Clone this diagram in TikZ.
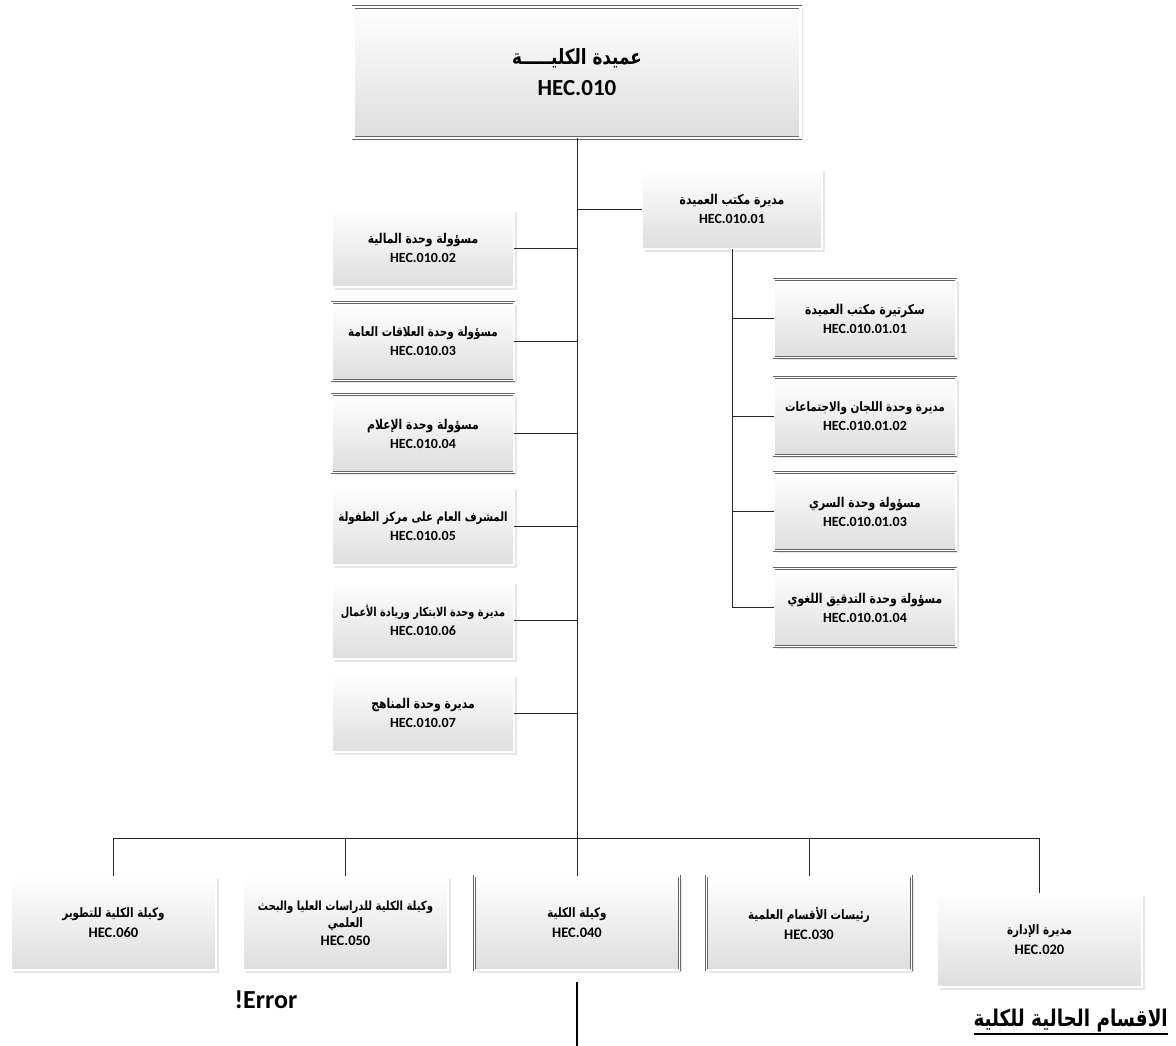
\documentclass[tikz,border=0pt]{standalone}
\usepackage{fontspec}
\setmainfont{Carlito}
\newfontfamily\arabicfont[Script=Arabic, FakeStretch=0.8]{DejaVu Sans}
\TeXXeTstate=1
\usetikzlibrary{shadows}
\newcommand\artxt[1]{{\arabicfont\bfseries\beginR #1\endR}}
\newcommand\thickul[1]{\vtop{\hbox{#1}\kern1.5pt\hrule height 2.2pt}}
\tikzset{
  orgbox/.style={draw=black!60, double=white, double distance=1.6pt, line width=0.6pt,
    top color=white, bottom color=black!13,
    drop shadow={opacity=0.2, shadow xshift=2.5pt, shadow yshift=-2.5pt},
    align=center, inner sep=2pt, minimum width=182pt, minimum height=78pt,
    font=\bfseries\fontsize{14}{16}\selectfont},
  topbox/.style={orgbox, double distance=2.4pt, minimum width=447pt, minimum height=131pt,
    font=\bfseries\fontsize{23}{26}\selectfont},
  lowbox/.style={orgbox, minimum width=205pt, minimum height=94pt,
    font=\bfseries\fontsize{14.5}{16}\selectfont},
  link/.style={draw=black!85, line width=1pt},
}
\begin{document}
\begin{tikzpicture}[x=1pt,y=-1pt]
\useasboundingbox (0,0) rectangle (1176,1046);
% top
\node[topbox] (top) at (577,72.5) {{\fontsize{21}{24}\selectfont\artxt{عميدة الكليـــــة}}\\[5pt] HEC.010};
% right column
\node[orgbox, minimum width=180pt, minimum height=80pt] (r0) at (732,209) {{\fontsize{13.5}{15}\selectfont\artxt{مديرة مكتب العميدة}}\\[3pt] HEC.010.01};
\node[orgbox] (r1) at (865,318.5) {{\fontsize{13.5}{15}\selectfont\artxt{سكرتيرة مكتب العميدة}}\\[3pt] HEC.010.01.01};
\node[orgbox] (r2) at (865,416.5) {{\fontsize{13}{15}\selectfont\artxt{مديرة وحدة اللجان والاجتماعات}}\\[3pt] HEC.010.01.02};
\node[orgbox] (r3) at (865,511.5) {{\fontsize{13.5}{15}\selectfont\artxt{مسؤولة وحدة السري}}\\[3pt] HEC.010.01.03};
\node[orgbox] (r4) at (865,607.5) {{\fontsize{13.5}{15}\selectfont\artxt{مسؤولة وحدة التدقيق اللغوي}}\\[3pt] HEC.010.01.04};
% left column
\node[orgbox] (l2) at (423,248) {{\fontsize{13.5}{15}\selectfont\artxt{مسؤولة وحدة المالية}}\\[3pt] HEC.010.02};
\node[orgbox] (l3) at (423,341.5) {{\fontsize{13}{15}\selectfont\artxt{مسؤولة وحدة العلاقات العامة}}\\[3pt] HEC.010.03};
\node[orgbox] (l4) at (423,433.5) {{\fontsize{13.5}{15}\selectfont\artxt{مسؤولة وحدة الإعلام}}\\[3pt] HEC.010.04};
\node[orgbox] (l5) at (423,526) {{\fontsize{12.8}{15}\selectfont\artxt{المشرف العام على مركز الطفولة}}\\[3pt] HEC.010.05};
\node[orgbox] (l6) at (423,620) {{\fontsize{12.2}{15}\selectfont\artxt{مديرة وحدة الابتكار وريادة الأعمال}}\\[3pt] HEC.010.06};
\node[orgbox] (l7) at (423,713) {{\fontsize{13.5}{15}\selectfont\artxt{مديرة وحدة المناهج}}\\[3pt] HEC.010.07};
% bottom row
\node[lowbox] (b060) at (113.5,923) {{\fontsize{13}{15}\selectfont\artxt{وكيلة الكلية للتطوير}}\\[4pt] HEC.060};
\node[lowbox] (b050) at (345.5,923) {{\fontsize{12.6}{15}\selectfont\artxt{وكيلة الكلية للدراسات العليا والبحث}}\\[1pt]{\fontsize{13}{15}\selectfont\artxt{العلمي}}\\[2pt] HEC.050};
\node[lowbox] (b040) at (577,923) {{\fontsize{13}{15}\selectfont\artxt{وكيلة الكلية}}\\[4pt] HEC.040};
\node[lowbox] (b030) at (809,923) {{\fontsize{13}{15}\selectfont\artxt{رئيسات الأقسام العلمية}}\\[4pt] HEC.030};
\node[lowbox] (b020) at (1039.5,940) {{\fontsize{13}{15}\selectfont\artxt{مديرة الإدارة}}\\[4pt] HEC.020};
% texts below
\node[font=\bfseries\fontsize{26}{28}\selectfont, inner sep=0pt] (err) at (266,1000) {!Error};
\node[anchor=east, inner sep=0pt, font=\bfseries\fontsize{23}{26}\selectfont] (head) at (1168,1022) {\thickul{\artxt{الاقسام الحالية للكلية}}};
\coordinate (v1) at (577,982);
\coordinate (v2) at (577,1046);
% connectors
\draw[link] (top.south) -- (b040.north);
\draw[link] (r0.west) -- (r0.west -| top.south);
\foreach \n in {l2,l3,l4,l5,l6,l7} \draw[link] (\n.east) -- (\n.east -| top.south);
\draw[link] (r0.south) -- (r0.south |- r4.west);
\foreach \n in {r1,r2,r3,r4} \draw[link] (\n.west) -- (\n.west -| r0.south);
\draw[link] (b060.north) -- ++(0,-37) -| (b020.north);
\foreach \n in {b050,b030} \draw[link] (\n.north) -- ++(0,-37);
\draw[link, line width=1.6pt, draw=black] (v1) -- (v2);
\end{tikzpicture}
\end{document}
